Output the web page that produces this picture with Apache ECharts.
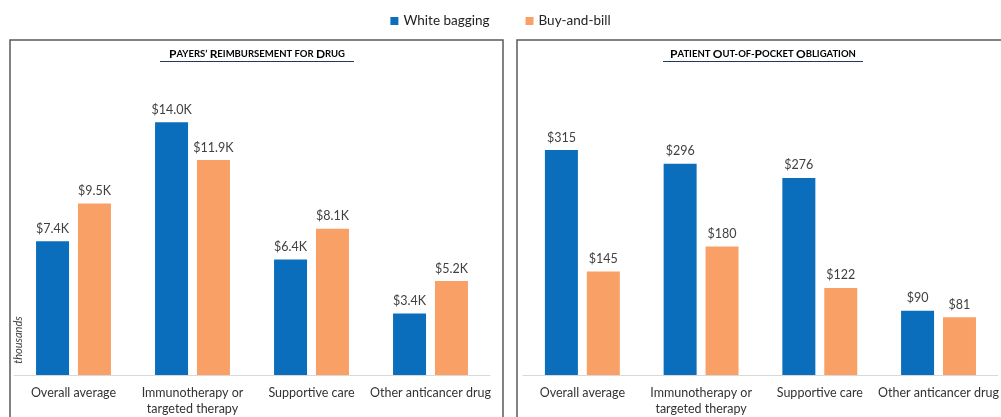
<!DOCTYPE html>
<html><head><meta charset="utf-8">
<script src="https://cdn.jsdelivr.net/npm/echarts@6/dist/echarts.min.js"></script>
<style>html,body{margin:0;padding:0;background:#fff}#c{width:1001px;height:417px}</style>
</head><body><div id="c"></div>
<script>
const categories = ['Overall average', 'Immunotherapy or\ntargeted therapy', 'Supportive care', 'Other anticancer drug'];
const seriesNames = ['White bagging', 'Buy-and-bill'];
const payerWhite = [7.4, 14.0, 6.4, 3.4];
const payerBuy = [9.5, 11.9, 8.1, 5.2];
const patientWhite = [315, 296, 276, 90];
const patientBuy = [145, 180, 122, 81];
const panelTitles = [
  [['P','AYERS’ '],['R','EIMBURSEMENT FOR '],['D','RUG']],
  [['P','ATIENT '],['O','UT-OF-'],['P','OCKET '],['O','BLIGATION']]
];
const yLabelLeft = 'thousands';

const BLUE = '#0A6EBD', ORANGE = '#F8A066', NAVY = '#1F3864';
const FONT = 'Lato, "Open Sans", sans-serif';

function smallCaps(parts){
  return parts.map(p => '{b|' + p[0] + '}{s|' + p[1] + '}').join('');
}
const titleRich = {
  b: {fontSize: 12, fontWeight: 'bold', fontFamily: FONT, color: NAVY},
  s: {fontSize: 9.5, fontWeight: 'bold', fontFamily: FONT, color: NAVY}
};

const chart = echarts.init(document.getElementById('c'), null, {renderer: 'canvas'});
const labelStyle = {show: true, position: 'top', distance: 6, color: '#404040', fontSize: 12.5, fontFamily: FONT};
const catAxis = (gi) => ({
  type: 'category', gridIndex: gi, data: categories,
  axisLine: {lineStyle: {color: '#d9d9d9', width: 1}},
  axisTick: {show: false},
  axisLabel: {color: '#333', fontSize: 12.5, fontFamily: FONT, margin: 10, lineHeight: 16, interval: 0}
});
const valAxis = (gi, max) => ({
  type: 'value', gridIndex: gi, min: 0, max: max,
  splitLine: {show: false}, axisLabel: {show: false}, axisLine: {show: false}, axisTick: {show: false}
});

chart.setOption({
  animation: false,
  textStyle: {fontFamily: FONT},
  legend: {
    top: 9, left: 'center', icon: 'rect', itemWidth: 8, itemHeight: 8, itemGap: 36,
    textStyle: {fontSize: 13.5, color: '#222', fontFamily: FONT},
    data: seriesNames
  },
  grid: [
    {left: 14, width: 476, top: 68, bottom: 42},
    {left: 523, width: 483, top: 68, bottom: 42}
  ],
  xAxis: [catAxis(0), catAxis(1)],
  yAxis: [valAxis(0, 17), valAxis(1, 430)],
  graphic: [
    {type: 'rect', z: -1, shape: {x: 10, y: 40, width: 493, height: 400}, style: {fill: 'none', stroke: '#5a5a5a', lineWidth: 1.5}},
    {type: 'rect', z: -1, shape: {x: 517, y: 40, width: 500, height: 400}, style: {fill: 'none', stroke: '#5a5a5a', lineWidth: 1.5}},
    {type: 'text', x: 257, y: 54, style: {text: smallCaps(panelTitles[0]), rich: titleRich, align: 'center', verticalAlign: 'middle'}},
    {type: 'text', x: 763, y: 54, style: {text: smallCaps(panelTitles[1]), rich: titleRich, align: 'center', verticalAlign: 'middle'}},
    {type: 'line', shape: {x1: 160, y1: 61.5, x2: 354, y2: 61.5}, style: {stroke: NAVY, lineWidth: 1}},
    {type: 'line', shape: {x1: 663, y1: 61.5, x2: 863, y2: 61.5}, style: {stroke: NAVY, lineWidth: 1}},
    {type: 'text', x: 18, y: 340, rotation: Math.PI / 2, style: {text: yLabelLeft, fontSize: 11, fontStyle: 'italic', fontFamily: FONT, fill: '#404040', align: 'center', verticalAlign: 'middle'}}
  ],
  series: [
    {name: seriesNames[0], type: 'bar', xAxisIndex: 0, yAxisIndex: 0, data: payerWhite, barWidth: 33, barGap: '27%', itemStyle: {color: BLUE},
     label: Object.assign({}, labelStyle, {formatter: p => '$' + p.value.toFixed(1) + 'K'})},
    {name: seriesNames[1], type: 'bar', xAxisIndex: 0, yAxisIndex: 0, data: payerBuy, barWidth: 33, barGap: '27%', itemStyle: {color: ORANGE},
     label: Object.assign({}, labelStyle, {formatter: p => '$' + p.value.toFixed(1) + 'K'})},
    {name: seriesNames[0], type: 'bar', xAxisIndex: 1, yAxisIndex: 1, data: patientWhite, barWidth: 33, barGap: '27%', itemStyle: {color: BLUE},
     label: Object.assign({}, labelStyle, {formatter: p => '$' + p.value})},
    {name: seriesNames[1], type: 'bar', xAxisIndex: 1, yAxisIndex: 1, data: patientBuy, barWidth: 33, barGap: '27%', itemStyle: {color: ORANGE},
     label: Object.assign({}, labelStyle, {formatter: p => '$' + p.value})}
  ]
});
</script></body></html>
